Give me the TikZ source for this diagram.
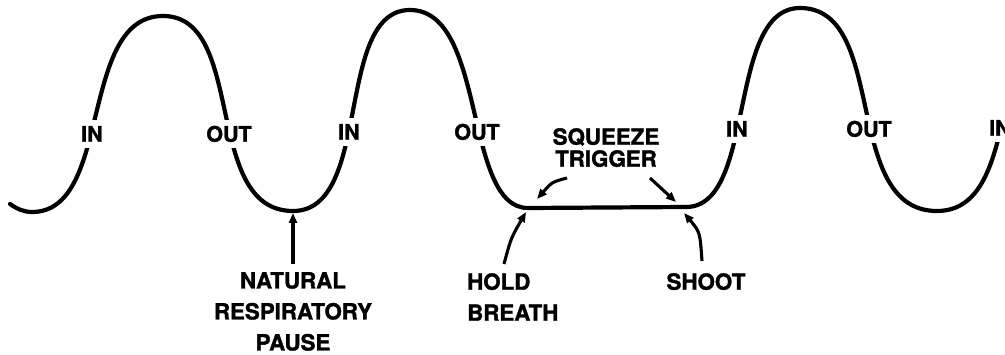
\documentclass[tikz,border=0pt]{standalone}
\usepackage{fontspec}
\setmainfont{TeX Gyre Heros}[BoldFeatures={FakeBold=1.5}]
\usetikzlibrary{arrows.meta}
\begin{document}
\begin{tikzpicture}[x=1pt,y=-1pt,
  wave/.style={line width=4.2pt, line cap=round, line join=round},
  pointer/.style={line width=3.1pt, -{Triangle[length=10pt,width=8pt]}},
  phase/.style={fill=white, inner xsep=1pt, inner ysep=6pt,
    font=\fontsize{21.5}{22}\selectfont\bfseries, text height=15.5pt, text depth=0pt},
  note/.style={inner sep=0pt, font=\fontsize{22.3}{31}\selectfont\bfseries},
]
\useasboundingbox (0,0) rectangle (1005,355);

% breathing curve
\begin{scope}
\clip (-20,-20) -- (985,-20) -- (985,124) -- (1030,124) -- (1030,380) -- (-20,380) -- cycle;
\draw[wave] (10,204) .. controls (17,209) and (24,212) .. (32,212)
  .. controls (113,212) and (78,16) .. (163,16)
  .. controls (247,16) and (202,211) .. (293,211)
  .. controls (373,211) and (334,10) .. (410,10)
  .. controls (487,10) and (463,208) .. (528,208)
  -- (686,207)
  .. controls (757,207) and (726,8) .. (800,8)
  .. controls (889,8) and (841,211) .. (937,211)
  .. controls (1027,211) and (984,10) .. (1070,10);
\end{scope}

% phase labels
\node[phase] (in1)  at (92,134)  {IN};
\node[phase] (out1) at (229,134) {OUT};
\node[phase] (in2)  at (349,132) {IN};
\node[phase] (out2) at (477,132) {OUT};
\node[phase] (in3)  at (737,129) {IN};
\node[phase] (out3) at (869,129) {OUT};
\node[phase, anchor=west, inner xsep=0pt] (in4) at (989,128) {IN};

% annotations
\node[note, anchor=north, align=center, font=\fontsize{22.3}{22}\selectfont\bfseries] (squeeze) at (606,128) {SQUEEZE\\TRIGGER};
\node[note, anchor=north, align=center] (natural) at (293,272) {NATURAL\\RESPIRATORY\\PAUSE};
\node[note, anchor=north west, align=left] (hold) at (467,273) {HOLD\\BREATH};
\node[note, anchor=north] (shoot) at (706,273) {SHOOT};

% arrow end points
\coordinate (natTail) at (293,264);
\coordinate (natHead) at (293,213);
\coordinate (holdTail) at (504,264);
\coordinate (holdHead) at (526,212);
\coordinate (shootTail) at (702,261);
\coordinate (shootHead) at (684,213);
\coordinate (sqLTail) at (567,178);
\coordinate (sqLHead) at (537,199);
\coordinate (sqRTail) at (650,178);
\coordinate (sqRHead) at (676,202);

\draw[pointer] (natTail) -- (natHead);
\draw[pointer] (holdTail) .. controls (511,238) .. (holdHead);
\draw[pointer] (shootTail) .. controls (700,232) .. (shootHead);
\draw[pointer] (sqLTail) .. controls (552,182) .. (sqLHead);
\draw[pointer] (sqRTail) -- (sqRHead);
\end{tikzpicture}
\end{document}
